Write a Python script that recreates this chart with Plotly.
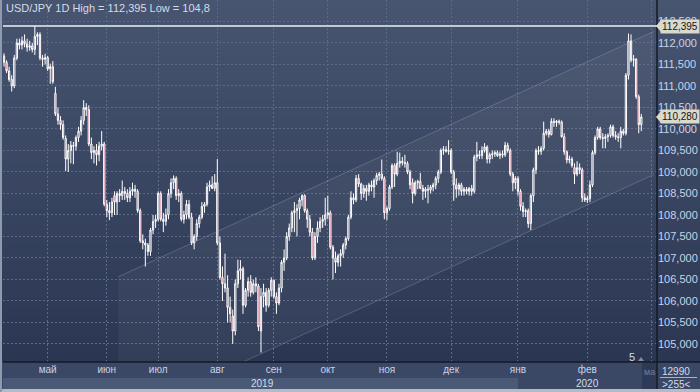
import plotly.graph_objects as go

# ---------------- data ----------------
open_ = [111.70,111.55,111.35,111.15,111.00,111.65,112.00,111.95,112.05,111.98,111.90,111.93,111.85,112.15,112.20,111.65,111.62,111.66,111.40,111.45,
110.83,110.35,110.20,110.10,109.78,109.30,109.50,109.62,109.60,109.80,109.95,110.20,110.50,110.45,109.65,109.45,109.50,109.40,109.60,109.65,
108.25,108.10,108.05,108.45,108.30,108.50,108.45,108.55,108.50,108.40,108.55,108.60,108.55,108.10,107.40,107.35,107.30,107.15,107.65,107.85,
107.90,108.50,107.90,107.85,108.00,108.50,108.75,108.85,108.45,108.50,107.90,108.00,108.25,107.95,107.35,107.50,107.80,107.95,108.20,108.25,
108.65,108.70,108.62,108.75,107.35,106.55,106.40,106.30,105.85,105.65,105.30,106.40,106.70,106.75,105.90,106.25,106.45,106.20,106.40,106.35,
105.30,106.10,106.20,105.90,106.25,106.48,106.10,105.95,106.30,106.90,107.00,107.50,107.70,108.05,108.10,108.15,108.35,108.45,108.10,107.90,
107.60,107.00,107.50,107.70,107.85,107.90,108.00,108.05,107.25,107.00,106.90,107.05,107.10,107.30,107.45,107.95,108.40,108.35,108.85,108.72,
108.50,108.62,108.55,108.70,108.65,108.80,108.92,108.95,108.85,108.05,108.15,108.65,109.15,108.95,109.20,109.25,109.22,109.20,109.00,108.75,
108.50,108.75,108.78,108.62,108.55,108.60,108.58,108.65,108.70,108.85,109.00,109.50,109.52,109.48,109.50,109.00,108.70,108.60,108.70,108.55,
108.60,108.55,108.62,108.55,109.35,109.40,109.38,109.50,109.58,109.30,109.40,109.42,109.45,109.38,109.42,109.40,109.62,109.50,108.95,108.75,
108.85,108.55,108.20,108.08,108.10,107.80,108.45,109.05,109.50,109.48,109.55,109.90,109.95,109.87,110.18,110.15,110.18,110.16,109.82,109.47,
109.28,109.30,109.10,108.95,109.10,109.05,108.40,108.35,108.38,108.70,109.45,109.80,110.00,109.80,109.78,109.82,109.85,110.05,109.85,109.82,
109.80,109.95,109.90,111.25,112.05,111.60,111.62,110.75,110.10]
high = [111.76,111.60,111.45,111.25,111.72,112.10,112.10,112.15,112.20,112.10,112.05,112.00,112.395,112.25,112.25,111.72,111.75,111.70,111.52,111.58,
110.98,110.50,110.30,110.20,109.85,109.65,109.72,109.70,109.85,110.05,110.30,110.67,110.60,110.55,109.80,109.60,109.65,109.70,109.95,109.70,
108.35,108.30,108.40,108.55,108.55,108.60,108.80,108.65,108.60,108.65,108.75,108.70,108.60,108.15,107.55,107.45,107.35,107.70,108.00,108.00,
108.55,108.55,108.05,108.15,108.60,108.85,108.92,108.90,108.60,108.55,108.10,108.35,108.35,108.05,107.55,107.90,108.00,108.30,108.30,108.75,
108.80,108.90,108.95,109.30,107.50,106.80,107.10,106.60,106.10,105.80,106.50,106.96,106.95,106.80,106.30,106.55,106.60,106.50,106.55,106.40,
106.30,106.40,106.30,106.30,106.55,106.50,106.20,106.40,106.95,107.20,107.60,107.80,108.10,108.30,108.25,108.40,108.48,108.48,108.15,108.00,
107.70,107.60,107.85,107.95,108.00,108.40,108.45,108.10,107.30,107.15,107.10,107.20,107.35,107.50,108.00,108.55,108.50,108.93,108.95,108.75,
108.70,108.70,108.75,108.80,108.85,108.98,109.00,109.29,108.90,108.20,108.70,109.20,109.20,109.47,109.45,109.35,109.40,109.25,109.05,108.85,
108.80,108.82,108.98,108.70,108.65,108.70,108.70,108.75,108.90,109.05,109.55,109.60,109.60,109.74,109.55,109.05,108.85,108.75,108.75,108.65,
108.65,108.65,108.70,109.40,109.70,109.50,109.60,109.67,109.62,109.45,109.50,109.50,109.50,109.48,109.50,109.70,109.68,109.55,109.00,108.90,
108.90,108.60,108.30,108.15,108.15,108.50,109.10,109.55,109.60,109.60,110.17,110.00,110.00,110.25,110.25,110.21,110.22,110.20,109.90,109.50,
109.38,109.35,109.20,109.25,109.20,109.10,108.50,108.45,108.80,109.50,109.85,110.05,110.05,109.90,109.88,109.90,110.10,110.10,109.95,109.90,
110.05,110.00,111.30,112.22,112.20,111.72,111.65,110.80,110.35]
low = [111.45,111.30,111.10,110.87,110.95,111.60,111.85,111.85,111.90,111.80,111.82,111.78,111.72,111.95,111.60,111.45,111.50,111.35,111.05,111.05,
110.30,110.10,109.98,109.75,109.02,109.00,109.20,109.18,109.50,109.70,109.85,110.10,110.30,109.60,109.30,109.20,109.15,109.25,109.50,108.20,
107.95,107.88,107.95,108.00,108.00,108.30,108.35,108.35,108.30,108.30,108.45,108.40,108.05,107.35,107.20,106.80,107.05,107.05,107.55,107.70,
107.85,107.85,107.60,107.75,107.90,108.40,108.60,108.35,108.30,107.85,107.80,107.90,107.90,107.30,107.20,107.40,107.70,107.90,108.05,108.20,
108.55,108.60,108.55,107.30,106.50,106.00,106.20,105.50,105.50,105.00,105.20,106.30,106.50,105.70,105.85,106.10,106.10,106.15,106.20,105.30,
104.80,105.85,105.75,105.85,106.10,106.05,105.70,105.90,106.20,106.70,106.95,107.40,107.60,107.60,107.50,107.90,108.20,108.05,107.70,107.50,
106.95,106.95,107.35,107.60,107.70,107.75,107.90,107.20,106.50,106.65,106.80,106.80,107.00,107.20,107.40,107.90,108.25,108.30,108.65,108.35,
108.40,108.33,108.45,108.55,108.40,108.70,108.80,108.80,107.90,107.88,108.10,108.60,108.65,108.90,109.10,109.15,109.10,108.95,108.60,108.27,
108.45,108.60,108.60,108.35,108.40,108.27,108.50,108.55,108.60,108.75,108.95,109.40,109.45,109.40,108.95,108.33,108.40,108.45,108.45,108.45,
108.48,108.45,108.45,108.50,109.25,109.30,109.30,109.45,109.20,109.20,109.30,109.35,109.35,109.30,109.33,109.35,109.45,108.90,108.55,108.60,
108.45,108.10,107.95,107.95,107.70,107.65,108.30,108.95,109.40,109.40,109.50,109.85,109.80,109.85,110.05,110.05,110.10,109.80,109.40,109.20,
109.20,109.10,108.72,108.90,108.95,108.30,108.30,108.28,108.30,108.65,109.40,109.75,109.75,109.55,109.55,109.70,109.80,109.80,109.75,109.70,
109.55,109.85,109.85,111.15,111.55,111.45,110.70,109.90,109.95]
close = [111.55,111.35,111.15,111.00,111.65,112.00,111.95,112.05,111.98,111.90,111.93,111.85,112.15,112.20,111.65,111.62,111.66,111.40,111.45,111.10,
110.35,110.20,110.10,109.80,109.30,109.50,109.62,109.60,109.80,109.95,110.20,110.50,110.45,109.65,109.45,109.50,109.40,109.60,109.65,108.25,
108.10,108.05,108.30,108.30,108.50,108.45,108.55,108.50,108.40,108.55,108.60,108.55,108.10,107.40,107.35,107.30,107.15,107.65,107.85,107.90,
108.50,107.90,107.85,108.00,108.50,108.75,108.85,108.45,108.50,107.90,108.00,108.25,107.95,107.35,107.50,107.80,107.95,108.20,108.25,108.65,
108.70,108.62,108.75,107.35,106.55,106.40,106.30,105.85,105.70,105.30,106.40,106.70,106.75,105.90,106.25,106.45,106.20,106.40,106.35,105.40,
106.10,106.20,105.90,106.25,106.48,106.10,105.95,106.30,106.90,107.00,107.50,107.70,108.05,108.10,108.15,108.35,108.45,108.10,107.90,107.60,
107.00,107.50,107.70,107.85,107.90,108.00,108.05,107.25,107.00,106.90,107.05,107.10,107.30,107.45,107.95,108.40,108.35,108.85,108.72,108.50,
108.62,108.55,108.70,108.65,108.80,108.92,108.95,108.85,108.05,108.15,108.65,109.15,108.95,109.20,109.25,109.22,109.20,109.00,108.70,108.50,
108.75,108.78,108.62,108.55,108.60,108.58,108.65,108.70,108.85,109.00,109.50,109.52,109.48,109.50,109.00,108.70,108.60,108.70,108.55,108.60,
108.55,108.62,108.55,109.35,109.40,109.38,109.50,109.58,109.30,109.40,109.42,109.45,109.38,109.42,109.40,109.62,109.50,108.95,108.75,108.85,
108.55,108.20,108.08,108.10,107.80,108.45,109.05,109.50,109.48,109.55,109.90,109.95,109.87,110.18,110.15,110.18,110.16,109.82,109.47,109.28,
109.30,109.15,108.95,109.10,109.05,108.40,108.35,108.38,108.70,109.45,109.80,110.00,109.80,109.78,109.82,109.85,110.05,109.85,109.82,109.80,
109.95,109.90,111.25,112.05,111.60,111.62,110.75,110.10,110.28]
bar_index = list(range(len(close)))

month_labels = ["май", "июн", "июл", "авг", "сен", "окт", "ноя", "дек", "янв", "фев", ""]
month_start_bar = [17, 40, 60, 83, 105, 126, 149, 174, 200, 227, 252]
year_labels = ["2019", "2020"]
year_label_bar = [100.4, 227.2]

high_value = 112.395
last_value = 110.28
header = "USD/JPY 1D High = 112,395 Low = 104,8"

# channel (trend lines) end points: bar index, price
chan_upper_x = [44.4, 252.9]
chan_upper_y = [106.56, 112.27]
chan_lower_x = [93.0, 252.9]
chan_lower_y = [104.58, 108.94]

# ---------------- figure ----------------
W, H = 700, 392
ML, MR, MT, MB = 3, 43, 0, 30
PW, PH = W - ML - MR, H - MT - MB
XR = [-0.39, 254.1]
YR = [104.58, 113.0]
FONT = "Liberation Sans, Arial, sans-serif"


def px_x(p):
    return (p - ML) / PW


def px_y(p):
    return (H - MB - p) / PH


fig = go.Figure()

# channel fill
fig.add_trace(go.Scatter(
    x=[chan_upper_x[0], chan_upper_x[1], chan_lower_x[1], chan_lower_x[0], chan_upper_x[0], chan_upper_x[0]],
    y=[chan_upper_y[0], chan_upper_y[1], chan_lower_y[1], chan_lower_y[0], chan_lower_y[0], chan_upper_y[0]],
    mode="lines", fill="toself", fillcolor="rgba(255,255,255,0.045)",
    line=dict(width=0), hoverinfo="skip", showlegend=False))
for xs, ys in ((chan_upper_x, chan_upper_y), (chan_lower_x, chan_lower_y)):
    fig.add_trace(go.Scatter(x=xs, y=ys, mode="lines",
                             line=dict(color="rgba(190,200,220,0.26)", width=1),
                             hoverinfo="skip", showlegend=False))

fig.add_trace(go.Candlestick(
    x=bar_index, open=open_, high=high, low=low, close=close,
    increasing=dict(line=dict(color="#ffffff", width=1), fillcolor="#3b4866"),
    decreasing=dict(line=dict(color="#ffffff", width=1), fillcolor="#c4324c"),
    whiskerwidth=0, showlegend=False))

shapes = []
# background gradient (plot + right column)
top_c = (0x48, 0x55, 0x70)
bot_c = (0x2a, 0x36, 0x52)
N = 40
for k in range(N):
    t = (k + 0.5) / N
    c = tuple(int(round(top_c[j] + (bot_c[j] - top_c[j]) * t)) for j in range(3))
    shapes.append(dict(type="rect", xref="paper", yref="paper", layer="below",
                       x0=px_x(0), x1=px_x(W), y0=1 - (k + 1) / N - 0.002, y1=1 - k / N,
                       fillcolor="rgb(%d,%d,%d)" % c, line=dict(width=0)))
# bottom axis band
shapes.append(dict(type="rect", xref="paper", yref="paper", layer="below",
                   x0=px_x(0), x1=px_x(W), y0=px_y(H), y1=px_y(362),
                   fillcolor="#3a4866", line=dict(width=0)))
shapes.append(dict(type="rect", xref="paper", yref="paper", layer="below",
                   x0=px_x(3), x1=px_x(518), y0=px_y(389), y1=px_y(378),
                   fillcolor="#4a5976", line=dict(width=0)))
shapes.append(dict(type="rect", xref="paper", yref="paper", layer="above",
                   x0=px_x(642), x1=px_x(656), y0=px_y(389), y1=px_y(363),
                   fillcolor="#2f3b56", line=dict(width=0)))
# frame lines
shapes.append(dict(type="line", xref="paper", yref="paper", x0=0, x1=px_x(W), y0=0, y1=0,
                   line=dict(color="#141a26", width=1.5)))
shapes.append(dict(type="line", xref="paper", yref="paper", x0=1, x1=1, y0=px_y(H), y1=1,
                   line=dict(color="#141a26", width=1.5)))
shapes.append(dict(type="rect", xref="paper", yref="paper", layer="above",
                   x0=px_x(0), x1=px_x(W), y0=px_y(H), y1=px_y(389),
                   fillcolor="#b3bbc8", line=dict(width=0)))
shapes.append(dict(type="rect", xref="paper", yref="paper", layer="above",
                   x0=px_x(0), x1=px_x(2), y0=px_y(H), y1=1,
                   fillcolor="#8f9aae", line=dict(width=0)))
# info box divider
shapes.append(dict(type="line", xref="paper", yref="paper", x0=px_x(660), x1=px_x(697),
                   y0=px_y(377.5), y1=px_y(377.5), line=dict(color="#aab4c8", width=1)))
# high line
shapes.append(dict(type="line", xref="paper", yref="y", x0=0, x1=1, y0=high_value, y1=high_value,
                   line=dict(color="#eef0f5", width=1.5)))
# tag pointers
for v in (high_value, last_value):
    shapes.append(dict(type="path", xref="paper", yref="y", xsizemode="pixel", ysizemode="pixel",
                       xanchor=1, yanchor=v, path="M -1,0 L 4,6 L 4,-6 Z",
                       fillcolor="#d9d9cc", line=dict(width=0)))
# small marker near '5'
shapes.append(dict(type="path", xref="paper", yref="paper", xsizemode="pixel", ysizemode="pixel",
                   xanchor=px_x(641), yanchor=px_y(358), path="M -3,-3 L 3,-3 L 0,1 Z",
                   fillcolor="#7f8aa2", line=dict(width=0)))

annotations = [
    dict(xref="paper", yref="paper", x=px_x(4), y=px_y(8), xanchor="left", yanchor="middle",
         text=header, showarrow=False, font=dict(family=FONT, size=11, color="#d4dbe8")),
    dict(xref="paper", yref="y", x=1, y=high_value, xanchor="left", yanchor="middle", xshift=3,
         text="112,395", showarrow=False, bgcolor="#d9d9cc", borderpad=1,
         font=dict(family=FONT, size=10, color="#151515")),
    dict(xref="paper", yref="y", x=1, y=last_value, xanchor="left", yanchor="middle", xshift=3,
         text="110,280", showarrow=False, bgcolor="#d9d9cc", borderpad=1,
         font=dict(family=FONT, size=10, color="#151515")),
    dict(xref="paper", yref="paper", x=px_x(676), y=px_y(371), xanchor="center", yanchor="middle",
         text="12990", showarrow=False, font=dict(family=FONT, size=10, color="#d4dbe8")),
    dict(xref="paper", yref="paper", x=px_x(676), y=px_y(384), xanchor="center", yanchor="middle",
         text="&gt;255&lt;", showarrow=False, font=dict(family=FONT, size=10, color="#d4dbe8")),
    dict(xref="paper", yref="paper", x=px_x(649), y=px_y(372), xanchor="center", yanchor="middle",
         text="ма", showarrow=False, font=dict(family=FONT, size=9, color="#6f7c98")),
    dict(xref="paper", yref="paper", x=px_x(632), y=px_y(357), xanchor="center", yanchor="middle",
         text="5", showarrow=False, font=dict(family=FONT, size=11, color="#d4dbe8")),
]
for lbl, b in zip(year_labels, year_label_bar):
    annotations.append(dict(xref="x", yref="paper", x=b, y=px_y(383.5), xanchor="center",
                            yanchor="middle", text=lbl, showarrow=False,
                            font=dict(family=FONT, size=10, color="#d4dbe8")))

fig.update_layout(
    width=W, height=H, margin=dict(l=ML, r=MR, t=MT, b=MB),
    paper_bgcolor="#34415d", plot_bgcolor="rgba(0,0,0,0)",
    separators=", ",
    shapes=shapes, annotations=annotations, showlegend=False,
    xaxis=dict(range=XR, rangeslider=dict(visible=False), tickmode="array",
               tickvals=month_start_bar, ticktext=month_labels, ticks="",
               showgrid=True, gridcolor="#5b6a88", griddash="2px,2px", gridwidth=1,
               zeroline=False, showline=False,
               tickfont=dict(family=FONT, size=10, color="#c8d2e6")),
    yaxis=dict(range=YR, side="right", dtick=0.5, tick0=105, tickformat=".3f", ticks="",
               showgrid=True, gridcolor="#5b6a88", griddash="2px,2px", gridwidth=1,
               zeroline=False, showline=False,
               tickfont=dict(family=FONT, size=11, color="#c8d4ea")),
    hovermode=False,
)

fig.write_html("out.html")
